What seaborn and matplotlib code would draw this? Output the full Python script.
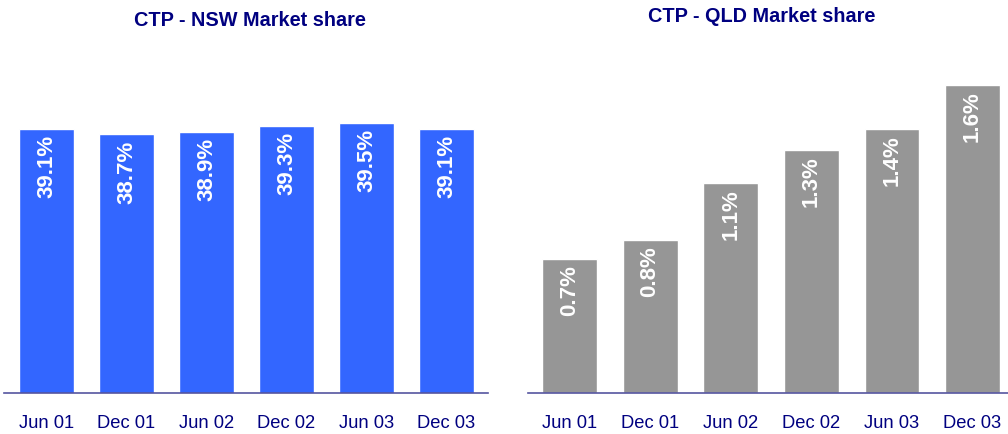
import matplotlib
matplotlib.use("Agg")
import matplotlib.pyplot as plt
import seaborn as sns
import pandas as pd

# data
periods = ["Jun 01", "Dec 01", "Jun 02", "Dec 02", "Jun 03", "Dec 03"]
nsw_share = [39.1, 38.7, 38.9, 39.3, 39.5, 39.1]
nsw_labels = ["39.1%", "38.7%", "38.9%", "39.3%", "39.5%", "39.1%"]
qld_share = [0.70, 0.80, 1.10, 1.27, 1.38, 1.61]
qld_labels = ["0.7%", "0.8%", "1.1%", "1.3%", "1.4%", "1.6%"]

sns.set_theme(style="white")
plt.rcParams["font.family"] = ["Liberation Sans", "DejaVu Sans"]

navy = "#000080"
axis_col = "#5555a0"

fig = plt.figure(figsize=(10.08, 4.34), dpi=100)
W, H = 1008, 434

# left: NSW
ax1 = fig.add_axes([4 / W, 1 - 393 / H, 484 / W, 344 / H])
nsw = pd.DataFrame({"period": periods, "share": nsw_share})
sns.barplot(data=nsw, x="period", y="share", color="#3366ff", saturation=1,
            width=0.69, ax=ax1)
ax1.set_xlim(-0.531, 5.519)
ax1.set_ylim(19.9, 44.9)

# right: QLD
ax2 = fig.add_axes([528 / W, 1 - 393 / H, 480 / W, 344 / H])
qld = pd.DataFrame({"period": periods, "share": qld_share})
sns.barplot(data=qld, x="period", y="share", color="#969696", saturation=1,
            width=0.68, ax=ax2)
ax2.set_xlim(-0.515, 5.44)
ax2.set_ylim(0, 1.8)

for ax, vals, labs in [(ax1, nsw_share, nsw_labels), (ax2, qld_share, qld_labels)]:
    for i, (v, lab) in enumerate(zip(vals, labs)):
        ax.annotate(lab, (i, v), xytext=(0, -6), textcoords="offset pixels",
                    rotation=90, ha="center", va="top", color="white",
                    fontsize=16, fontweight="bold")
    for s in ["top", "right", "left"]:
        ax.spines[s].set_visible(False)
    ax.spines["bottom"].set_color(axis_col)
    ax.spines["bottom"].set_linewidth(1.2)
    ax.set_yticks([])
    ax.set_xlabel("")
    ax.set_ylabel("")
    ax.tick_params(axis="x", length=0, pad=15.5, labelsize=13.2, labelcolor=navy)
    ax.set_facecolor("white")

fig.text(250 / W, 1 - 20 / H, "CTP - NSW Market share", ha="center", va="center",
         fontsize=14.3, fontweight="bold", color=navy)
fig.text(762 / W, 1 - 17 / H, "CTP - QLD Market share", ha="center", va="center",
         fontsize=14.3, fontweight="bold", color=navy)

fig.savefig("out.png", dpi=100, facecolor="white")
